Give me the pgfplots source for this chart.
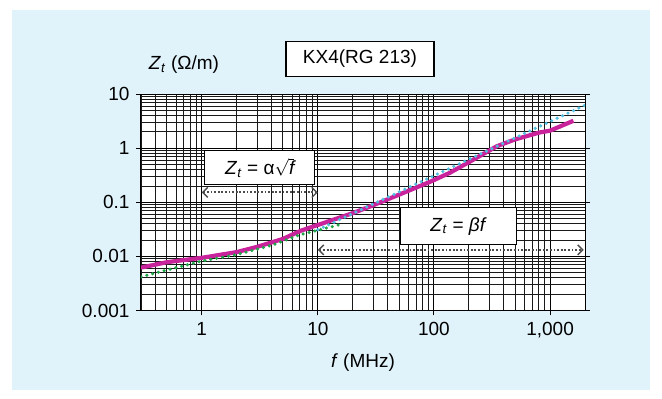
\documentclass[border=0pt]{standalone}
\usepackage{fontspec}
\setmainfont{Liberation Sans}
\usepackage{pgfplots}
\pgfplotsset{compat=1.18}
\usetikzlibrary{arrows.meta}
\definecolor{bgblue}{RGB}{224,242,250}
\definecolor{mag}{RGB}{200,35,155}
\definecolor{cyn}{RGB}{80,190,225}
\definecolor{grn}{RGB}{30,165,70}
\begin{document}
\fontsize{19}{22}\selectfont
\begin{tikzpicture}
\fill[white] (-141pt,-88.5pt) rectangle (521pt,310.5pt);
\fill[bgblue] (-129pt,-79.5pt) rectangle (509pt,300.5pt);
\begin{axis}[
  at={(0pt,0pt)}, anchor=south west,
  scale only axis, width=444pt, height=216.5pt,
  xmode=log, ymode=log,
  xmin=0.3, xmax=2000, ymin=0.001, ymax=10,
  axis background/.style={fill=white},
  grid=both,
  major grid style={black, line width=1pt},
  minor grid style={black!90, line width=0.85pt},
  xtick={1,10,100,1000}, xticklabels={1,10,100,{1,000}},
  minor xtick={0.3,0.4,0.5,0.6,0.7,0.8,0.9,2,3,4,5,6,7,8,9,20,30,40,50,60,70,80,90,200,300,400,500,600,700,800,900,2000},
  ytick={0.001,0.01,0.1,1,10}, yticklabels={0.001,0.01,0.1,1,10},
  minor ytick={0.002,0.003,0.004,0.005,0.006,0.007,0.008,0.009,0.02,0.03,0.04,0.05,0.06,0.07,0.08,0.09,0.2,0.3,0.4,0.5,0.6,0.7,0.8,0.9,2,3,4,5,6,7,8,9},
  tick align=outside, major tick length=5pt, minor tick length=0pt,
  xtick pos=bottom, ytick pos=both, yticklabel pos=left,
  tick style={black, line width=1pt},
  axis line style={black, line width=1pt},
  tick label style={font=\fontsize{19}{22}\selectfont},
  /pgf/number format/assume math mode=true,
]
\addplot[mag, line width=4.2pt, line join=round] coordinates {
 (0.3,0.0062) (0.5,0.0078) (1,0.0094) (2,0.012) (3,0.015) (5,0.021)
 (7.2,0.030) (10,0.038) (20,0.063) (28,0.083) (50,0.138) (92,0.237)
 (137,0.35) (200,0.55) (347,1.08) (500,1.45) (817,1.95) (1000,2.1) (1590,3.2)
};
\addplot[grn, line width=3.5pt, dash pattern=on 0pt off 6pt, line cap=round] coordinates {
 (0.3,0.0042) (1,0.0082) (2,0.0108) (4,0.016) (7,0.025) (15,0.038)
};
\addplot[cyn, line width=3.5pt, dash pattern=on 0pt off 6pt, line cap=round] coordinates {
 (10,0.031) (2000,6.2)
};
\draw[black!70, line width=2pt, dash pattern=on 1.8pt off 1.8pt,
  {Straight Barb[length=5pt,width=10pt,line width=1.4pt]}-{Straight Barb[length=5pt,width=10pt,line width=1.4pt]}]
  (axis cs:1,0.152) -- (axis cs:10,0.152);
\draw[black!70, line width=2pt, dash pattern=on 1.8pt off 1.8pt,
  {Straight Barb[length=5pt,width=10pt,line width=1.4pt]}-{Straight Barb[length=5pt,width=10pt,line width=1.4pt]}]
  (axis cs:10,0.0132) -- (axis cs:1950,0.0132);
\node[draw=black, fill=white, line width=1.2pt, minimum width=110pt, minimum height=34pt]
  at (axis cs:3.16,0.435) {\textit{Z}\textsubscript{\textit{t}} = α$\sqrt{\textit{f}}$};
\node[draw=black, fill=white, line width=1.2pt, minimum width=116pt, minimum height=37pt]
  at (axis cs:163,0.036) {\textit{Z}\textsubscript{\textit{t}} = \textit{βf}};
\end{axis}
\node at (43pt,246pt) {\textit{Z}\textsubscript{\textit{t}} (Ω/m)};
\node[draw=black, fill=white, line width=1.2pt, minimum height=35pt, inner xsep=17pt] at (219pt,251.5pt) {KX4(RG 213)};
\node at (222pt,-52.5pt) {\textit{f} (MHz)};
\end{tikzpicture}
\end{document}
